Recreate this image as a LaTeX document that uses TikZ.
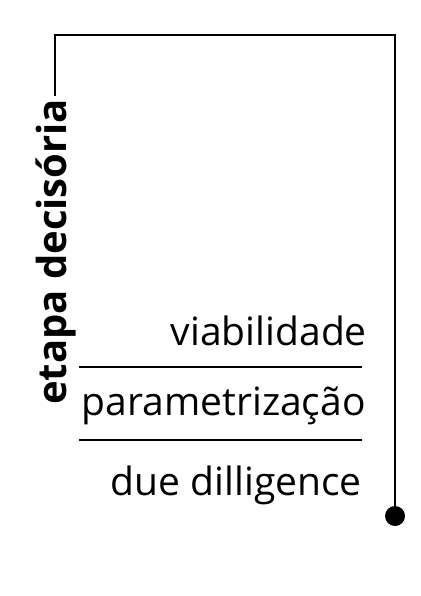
\documentclass[tikz,border=0pt]{standalone}
\usepackage{fontspec}
\setmainfont{Open Sans}
\begin{document}
\begin{tikzpicture}[x=1pt,y=-1pt,
  frame/.style={line width=2.8pt},
  sep/.style={line width=2pt},
  item/.style={anchor=base east,inner sep=0pt,font=\fontsize{39}{44}\selectfont},
  vlabel/.style={rotate=90,anchor=base west,inner ysep=0pt,inner xsep=3pt,font=\fontsize{40}{44}\selectfont\bfseries}]
\useasboundingbox (0,0) rectangle (420,596);
\node[vlabel] (lab) at (66,408) {etapa decisória};
\coordinate (tl) at (55,35);
\coordinate (tr) at (395,35);
\node[circle,fill=black,inner sep=0pt,minimum size=20pt] (dot) at (395,516) {};
\draw[frame] (tl |- lab.east) -- (tl) -- (tr) -- (dot.center);
\node[item] (v) at (367,345) {viabilidade};
\node[item] (p) at (366,415) {parametrização};
\node[item] (d) at (362,495) {due dilligence};
\coordinate (s1a) at (79,367); \coordinate (s1b) at (362,367);
\coordinate (s2a) at (79,440); \coordinate (s2b) at (362,440);
\draw[sep] (s1a) -- (s1b);
\draw[sep] (s2a) -- (s2b);
\end{tikzpicture}
\end{document}
